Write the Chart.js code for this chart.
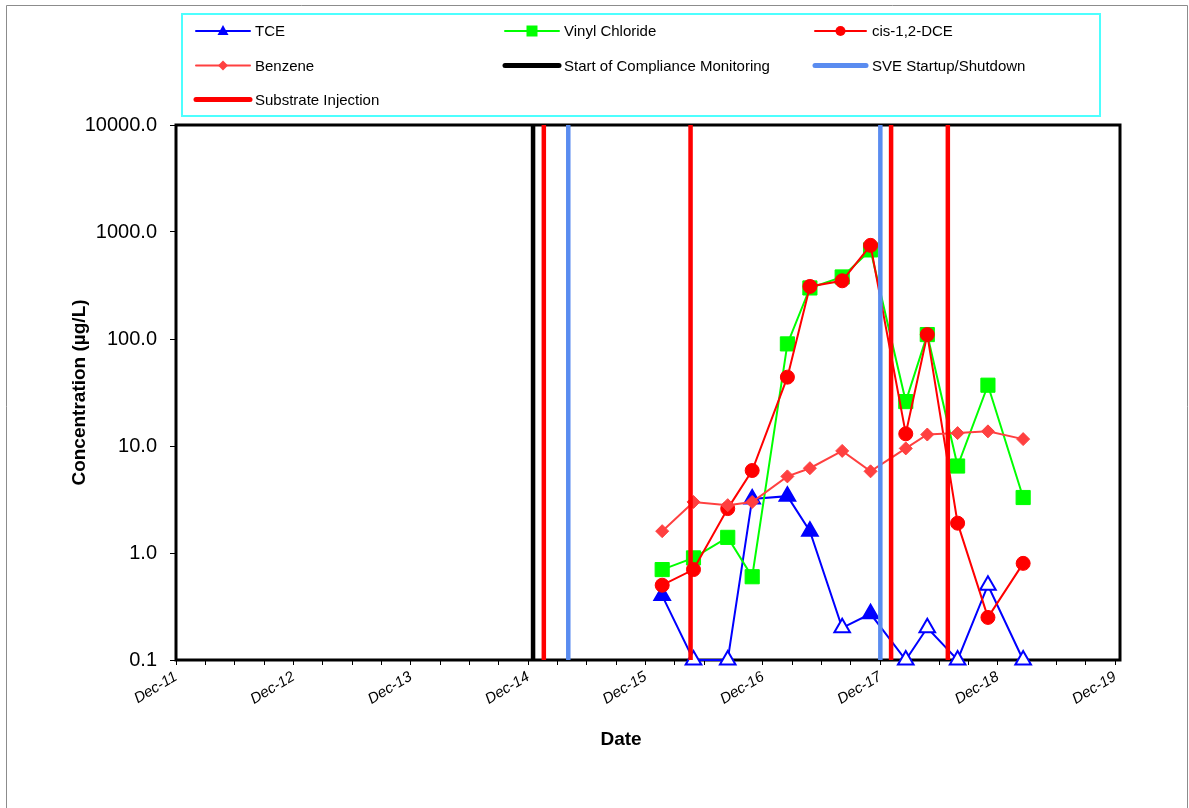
<!DOCTYPE html>
<html>
<head>
<meta charset="utf-8">
<script src="https://cdn.jsdelivr.net/npm/chart.js@4.4.0/dist/chart.umd.min.js"></script>
<style>
  body { margin: 0; background: #fff; }
  canvas { display: block; }
</style>
</head>
<body>
<canvas id="concChart" width="1189" height="808"></canvas>
<script>
// months after Dec-2011 for each sampling event
const sampleMonths = [49.7, 52.9, 56.4, 58.9, 62.5, 64.8, 68.1, 71.0, 74.6, 76.8, 79.9, 83.0, 86.6];

const tce = [0.4, 0.1, 0.1, 3.2, 3.4, 1.6, 0.2, 0.27, 0.1, 0.2, 0.1, 0.5, 0.1];
const tceNonDetect = [false, true, true, false, false, false, true, false, true, true, true, true, true];
const vinylChloride = [0.7, 0.9, 1.4, 0.6, 90, 300, 380, 680, 26, 110, 6.5, 37, 3.3];
const cisDCE = [0.5, 0.7, 2.6, 5.9, 44, 310, 350, 750, 13, 110, 1.9, 0.25, 0.8];
const benzene = [1.6, 3.0, 2.8, 3.0, 5.2, 6.2, 9.0, 5.8, 9.5, 12.8, 13.2, 13.7, 11.6];

// event dates (months after Dec-2011)
const complianceStart = [36.5];
const sveEvents = [40.1, 72.0];
const substrateInjections = [37.6, 52.6, 73.1, 78.9];

const yTicks = [0.1, 1, 10, 100, 1000, 10000];
const xTickLabels = ['Dec-11', 'Dec-12', 'Dec-13', 'Dec-14', 'Dec-15', 'Dec-16', 'Dec-17', 'Dec-18', 'Dec-19'];

// ========== helpers ==========
function toPoints(values) {
    return values.map((v, i) => ({ x: sampleMonths[i], y: v }));
}

function verticalLines(months) {
    const pts = [];
    months.forEach(m => {
        pts.push({ x: m, y: yTicks[0] });
        pts.push({ x: m, y: yTicks[yTicks.length - 1] });
        pts.push({ x: m, y: null });
    });
    return pts;
}

const legendItems = [
    { text: 'TCE', color: '#0000ff', marker: 'triangle', col: 0, row: 0 },
    { text: 'Vinyl Chloride', color: '#00ff00', marker: 'square', col: 1, row: 0 },
    { text: 'cis-1,2-DCE', color: '#ff0000', marker: 'circle', col: 2, row: 0 },
    { text: 'Benzene', color: '#ff4040', marker: 'diamond', col: 0, row: 1 },
    { text: 'Start of Compliance Monitoring', color: '#000000', marker: 'bar', col: 1, row: 1 },
    { text: 'SVE Startup/Shutdown', color: '#5a8cf0', marker: 'bar', col: 2, row: 1 },
    { text: 'Substrate Injection', color: '#ff0000', marker: 'bar', col: 0, row: 2 }
];

function drawMarker(ctx, type, x, y, color) {
    ctx.fillStyle = color;
    ctx.beginPath();
    if (type === 'triangle') {
        ctx.moveTo(x, y - 6);
        ctx.lineTo(x + 5.5, y + 4);
        ctx.lineTo(x - 5.5, y + 4);
    } else if (type === 'square') {
        ctx.rect(x - 5.5, y - 5.5, 11, 11);
    } else if (type === 'circle') {
        ctx.arc(x, y, 5, 0, Math.PI * 2);
    } else if (type === 'diamond') {
        ctx.moveTo(x, y - 5);
        ctx.lineTo(x + 5, y);
        ctx.lineTo(x, y + 5);
        ctx.lineTo(x - 5, y);
    }
    ctx.closePath();
    ctx.fill();
}

const decorPlugin = {
    id: 'decor',
    beforeDraw(chart) {
        const ctx = chart.ctx;
        ctx.save();
        ctx.fillStyle = '#fff';
        ctx.fillRect(0, 0, chart.width, chart.height);
        // outer frame
        ctx.strokeStyle = '#8c8c8c';
        ctx.lineWidth = 1;
        ctx.beginPath();
        ctx.moveTo(6.5, chart.height);
        ctx.lineTo(6.5, 5.5);
        ctx.lineTo(1187.5, 5.5);
        ctx.lineTo(1187.5, chart.height);
        ctx.stroke();
        ctx.restore();
    },
    beforeDatasetsDraw(chart) {
        const ctx = chart.ctx;
        const a = chart.chartArea;
        ctx.save();
        ctx.strokeStyle = '#000';
        ctx.lineWidth = 3;
        ctx.strokeRect(a.left, a.top, a.right - a.left, a.bottom - a.top);
        ctx.restore();
    },
    afterDraw(chart) {
        const ctx = chart.ctx;
        const a = chart.chartArea;
        ctx.save();

        // legend box
        ctx.strokeStyle = '#4dffff';
        ctx.lineWidth = 2;
        ctx.strokeRect(182, 14, 918, 102);

        const cols = [[196, 250, 255], [505, 559, 564], [815, 866, 872]];
        const rows = [31, 65.5, 99.5];
        ctx.font = '15px "Liberation Sans", Arial, sans-serif';
        ctx.textBaseline = 'middle';
        legendItems.forEach(it => {
            const c = cols[it.col];
            const y = rows[it.row];
            ctx.strokeStyle = it.color;
            ctx.lineCap = 'round';
            ctx.lineWidth = it.marker === 'bar' ? 5 : 2;
            ctx.beginPath();
            ctx.moveTo(c[0], y);
            ctx.lineTo(c[1], y);
            ctx.stroke();
            if (it.marker !== 'bar') drawMarker(ctx, it.marker, (c[0] + c[1]) / 2, y, it.color);
            ctx.fillStyle = '#000';
            ctx.textAlign = 'left';
            ctx.fillText(it.text, c[2], y + 1);
        });

        // axis titles
        ctx.fillStyle = '#000';
        ctx.font = 'bold 19px "Liberation Sans", Arial, sans-serif';
        ctx.textAlign = 'center';
        ctx.textBaseline = 'middle';
        ctx.fillText('Date', 621, 740);
        ctx.translate(80, (a.top + a.bottom) / 2);
        ctx.rotate(-Math.PI / 2);
        ctx.fillText('Concentration (µg/L)', 0, 0);
        ctx.restore();
    }
};

function seriesDataset(label, values, color, style, radius, order) {
    return {
        label: label,
        data: toPoints(values),
        borderColor: color,
        backgroundColor: color,
        borderWidth: 2,
        pointStyle: style,
        pointRadius: radius,
        pointBorderWidth: 1,
        pointBackgroundColor: color,
        pointBorderColor: color,
        tension: 0,
        clip: false,
        order: order
    };
}

function eventDataset(label, months, color, order) {
    return {
        label: label,
        data: verticalLines(months),
        borderColor: color,
        borderWidth: 4.5,
        pointRadius: 0,
        spanGaps: false,
        order: order
    };
}

const tceSet = seriesDataset('TCE', tce, '#0000ff', 'triangle', 9, 7);
tceSet.pointBackgroundColor = tceNonDetect.map(nd => nd ? '#ffffff' : '#0000ff');
tceSet.pointBorderWidth = 2;

const datasets = [
    tceSet,
    seriesDataset('Vinyl Chloride', vinylChloride, '#00ff00', 'rect', 10, 6),
    seriesDataset('cis-1,2-DCE', cisDCE, '#ff0000', 'circle', 7, 5),
    seriesDataset('Benzene', benzene, '#ff4040', 'rectRot', 6.5, 4),
    eventDataset('Start of Compliance Monitoring', complianceStart, '#000000', 3),
    eventDataset('SVE Startup/Shutdown', sveEvents, '#5a8cf0', 2),
    eventDataset('Substrate Injection', substrateInjections, '#ff0000', 1)
];

new Chart(document.getElementById('concChart').getContext('2d'), {
    type: 'line',
    data: { datasets: datasets },
    options: {
        responsive: false,
        animation: false,
        layout: { padding: { top: 125, right: 69, left: 0, bottom: 0 } },
        plugins: {
            legend: { display: false },
            tooltip: { enabled: false }
        },
        scales: {
            x: {
                type: 'linear',
                min: 0,
                max: 96.5,
                afterBuildTicks(scale) {
                    const t = [];
                    for (let m = 0; m <= 96; m += 3) t.push({ value: m });
                    scale.ticks = t;
                },
                afterFit(scale) { scale.height = 148; },
                border: { display: false },
                grid: { drawOnChartArea: false, drawTicks: true, tickLength: 5, color: '#000', lineWidth: 1 },
                ticks: {
                    autoSkip: false,
                    maxRotation: 31,
                    minRotation: 31,
                    padding: 3,
                    color: '#000',
                    font: { family: '"Liberation Sans", Arial, sans-serif', size: 15, style: 'italic' },
                    callback: v => (v % 12 === 0 ? xTickLabels[v / 12] : '')
                }
            },
            y: {
                type: 'logarithmic',
                min: 0.1,
                max: 10000,
                afterBuildTicks(scale) {
                    scale.ticks = yTicks.map(v => ({ value: v, major: true }));
                },
                afterFit(scale) { scale.width = 176; },
                border: { display: false },
                grid: { drawOnChartArea: false, drawTicks: true, tickLength: 6, color: '#000', lineWidth: 1 },
                ticks: {
                    padding: 13,
                    color: '#000',
                    font: { family: '"Liberation Sans", Arial, sans-serif', size: 20 },
                    callback: v => Number(v).toFixed(1)
                }
            }
        }
    },
    plugins: [decorPlugin]
});
</script>
</body>
</html>
